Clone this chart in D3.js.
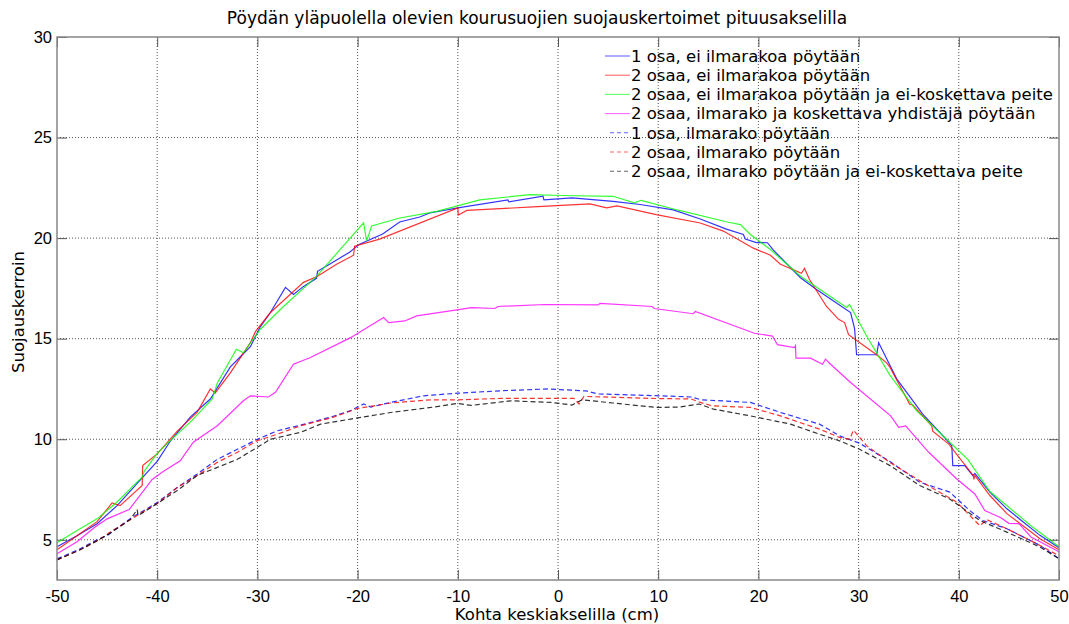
<!DOCTYPE html>
<html>
<head>
<meta charset="utf-8">
<script src="https://cdn.jsdelivr.net/npm/d3@7"></script>
<style>
  body { margin: 0; background: #fff; }
  svg { display: block; font-family: "DejaVu Sans", sans-serif; }
  .grid line { stroke: #555; stroke-dasharray: 1,2; stroke-width: 1; }
  .axis path { display: none; }
  .axis line { stroke: #555; }
  .axis text { font-size: 16.5px; fill: #000; }
</style>
</head>
<body>
<div id="chart"></div>
<script>
// x positions (cm) and coefficients
var osa1Ei = [[-50,4.65],[-48,5.2],[-46,5.8],[-44,6.7],[-42,7.8],[-40,8.9],[-38.7,9.9],[-36.7,11.1],[-34.7,12.0],[-32.7,13.6],[-31.7,14.1],[-30.7,14.6],[-29.7,15.6],[-28.7,16.3],[-27.2,17.55],[-26.4,17.2],[-25.4,17.6],[-24.1,18.0],[-24.0,18.35],[-22.8,18.7],[-20.8,19.3],[-19.8,19.7],[-17.5,20.2],[-15.8,20.8],[-13.8,21.05],[-12.8,21.25],[-10,21.5],[-5,21.9],[-4.9,21.8],[-1.5,22.08],[-1.4,21.9],[1.4,22.0],[5.5,21.83],[8.2,21.67],[11.5,21.4],[14.2,20.95],[16.8,20.45],[18.5,20.18],[18.7,19.95],[19.8,19.78],[20.9,19.77],[21.5,19.4],[24.2,18.03],[25.8,17.45],[27.5,16.87],[29.2,16.3],[29.6,15.5],[29.8,14.2],[31.8,14.2],[32.0,14.8],[33.0,13.8],[33.8,13.0],[34.8,12.33],[36.4,11.25],[38.1,10.34],[39.3,9.68],[39.4,8.69],[40.6,8.69],[41.4,8.19],[41.6,8.3],[43.1,7.37],[44.8,6.54],[46.4,5.9],[48.1,5.22],[50,4.6]]

var osa2Ei = [[-50,4.5],[-48,5.2],[-46,5.9],[-44.5,6.83],[-43.7,6.7],[-41.5,7.7],[-41.45,8.69],[-40,9.27],[-38,10.4],[-36,11.35],[-34.7,12.5],[-34.2,12.3],[-32.7,13.3],[-30.7,14.8],[-30.2,15.35],[-28.7,16.3],[-25.4,17.8],[-24,18.1],[-22.1,18.7],[-20.4,19.15],[-20.3,19.6],[-17.8,19.95],[-10,21.5],[-9.95,21.15],[-9.1,21.38],[-2.5,21.55],[3.2,21.7],[4.85,21.5],[5.9,21.6],[9.8,21.17],[14.2,20.75],[16.5,20.35],[19.5,19.5],[21.2,19.15],[22.2,18.7],[24.3,18.25],[24.6,18.5],[25.1,17.94],[26.8,16.6],[28.0,15.96],[28.6,15.8],[29.0,15.2],[31.8,14.2],[32.8,13.8],[33.1,13.6],[35.1,11.74],[35.4,11.7],[37.3,10.67],[37.4,10.4],[39.0,9.76],[41.45,8.19],[41.5,8.0],[41.6,8.2],[43.1,7.2],[44.8,6.3],[46.4,5.7],[48.1,5.05],[50,4.5]]

var osa2EiPeite = [[-50,4.85],[-48,5.46],[-46,6.04],[-44,6.88],[-42,7.88],[-41.5,8.1],[-41.3,8.4],[-40,9.3],[-38.7,9.93],[-36.7,10.85],[-34.5,12.0],[-34,12.8],[-32.1,14.47],[-31.4,14.3],[-29.7,15.47],[-27.4,16.6],[-24.1,18.1],[-19.4,20.76],[-19.1,19.85],[-18.6,20.6],[-15.8,21.0],[-12.1,21.33],[-7.8,21.9],[-2.8,22.16],[0.5,22.12],[5.5,22.08],[7.6,21.75],[8.3,21.88],[11.9,21.4],[16.9,20.8],[18.2,20.67],[19.2,20.18],[21.2,19.43],[24.2,18.1],[28.8,16.55],[29.1,16.7],[30.8,15.13],[33.1,13.2],[35.8,11.41],[39.1,9.85],[40.9,9.0],[43.1,7.4],[47.2,5.7],[50,4.65]]

var osa2Yhd = [[-50,4.3],[-48,4.9],[-46.3,5.6],[-45,6.04],[-42.8,6.5],[-40.5,8.0],[-39.4,8.4],[-37.7,8.93],[-36.4,9.85],[-34,10.67],[-31.4,11.91],[-30.7,12.16],[-28.9,12.1],[-28.2,12.33],[-26.4,13.73],[-24.7,14.06],[-20.7,15.05],[-17.4,16.05],[-16.9,15.8],[-15.3,15.88],[-14.1,16.13],[-8.6,16.54],[-6.3,16.5],[-6,16.6],[-1.3,16.7],[4,16.68],[4.2,16.75],[9.4,16.6],[9.6,16.5],[13.5,16.24],[13.7,16.35],[19.6,15.27],[21.4,15.13],[21.9,14.7],[23.6,14.56],[23.7,14.65],[23.75,14.03],[25.2,14.03],[26.4,13.73],[26.7,13.98],[27.2,13.73],[29.2,12.82],[33.2,11.16],[34.0,10.59],[34.7,10.66],[37.0,9.35],[39.8,8.02],[41.6,7.28],[42.6,6.45],[44.2,6.1],[45,5.82],[46,5.8],[47.2,5.14],[50,4.4]]

var osa1Rako = [[-50,4.05],[-47.7,4.55],[-45.8,5.05],[-45,5.2],[-42.7,6.05],[-40,6.85],[-38,7.6],[-36,8.27],[-34,9.0],[-32,9.5],[-30,10.0],[-28,10.42],[-25.7,10.7],[-22.7,11.1],[-20.7,11.42],[-19.4,11.75],[-18.7,11.6],[-16.7,11.83],[-13.4,12.16],[-10,12.29],[-5.7,12.41],[-1,12.5],[2.8,12.4],[4,12.25],[9.5,12.17],[13.3,12.1],[14.3,11.96],[19.2,11.83],[22.2,11.33],[26.1,10.75],[28.1,10.17],[30.1,9.8],[33.1,8.9],[36.1,7.86],[39.1,7.37],[39.9,7.0],[41.1,6.45],[42.4,5.96],[44.8,5.55],[48.1,4.72],[50,4.06]]

var osa2Rako = [[-50,4.0],[-47.7,4.5],[-45.8,5.0],[-44.8,5.35],[-42.7,6.0],[-40,6.8],[-38,7.6],[-36,8.2],[-34,8.85],[-32,9.35],[-30,9.93],[-28,10.25],[-25.7,10.67],[-22.7,11.05],[-20,11.53],[-16.7,11.8],[-12.7,11.96],[-10,11.96],[-5.7,12.03],[1.6,12.03],[2.1,11.75],[2.6,12.13],[9.2,12.03],[13.3,12.0],[14.2,11.83],[15.4,11.66],[19.2,11.58],[22.2,11.16],[26.1,10.5],[28.1,10.09],[29.1,10.0],[29.5,10.45],[30.1,10.09],[30.8,9.68],[33.1,8.85],[36.1,7.94],[39.8,6.87],[42.1,5.7],[42.8,6.0],[44.8,5.55],[48.1,4.72],[50,4.2]]

var osa2RakoPeite = [[-50,4.0],[-47.7,4.5],[-45.8,5.0],[-44.8,5.3],[-42.7,6.0],[-42,6.5],[-41.9,6.2],[-40,6.8],[-38,7.45],[-36,8.2],[-34,8.6],[-32,9.0],[-30,9.6],[-28.7,10.0],[-25.7,10.34],[-23.7,10.75],[-20.7,11.0],[-16.7,11.33],[-12.7,11.58],[-10,11.78],[-8.7,11.68],[-4.7,11.91],[-0.7,11.83],[1.4,11.7],[2.4,11.96],[5.5,11.8],[9.8,11.58],[12.1,11.6],[14.1,11.75],[15.5,11.5],[19.2,11.16],[23.2,10.75],[26.1,10.25],[28.1,9.92],[30.1,9.5],[33.1,8.7],[36.1,7.7],[39.1,7.03],[42.1,5.96],[44.8,5.38],[48.1,4.64],[50,4.06]]

var seriesNames = [
  '1 osa, ei ilmarakoa pöytään',
  '2 osaa, ei ilmarakoa pöytään',
  '2 osaa, ei ilmarakoa pöytään ja ei-koskettava peite',
  '2 osaa, ilmarako ja koskettava yhdistäjä pöytään',
  '1 osa, ilmarako pöytään',
  '2 osaa, ilmarako pöytään',
  '2 osaa, ilmarako pöytään ja ei-koskettava peite'
]
var seriesValues = [osa1Ei, osa2Ei, osa2EiPeite, osa2Yhd, osa1Rako, osa2Rako, osa2RakoPeite]
var seriesColors = ['#0000ff', '#ff0000', '#00ff00', '#ff00ff', '#0000ff', '#ff0000', '#000000']
var seriesDashed = [false, false, false, false, true, true, true]

var xTicks = [-50, -40, -30, -20, -10, 0, 10, 20, 30, 40, 50]
var yTicks = [5, 10, 15, 20, 25, 30]

var title = 'Pöydän yläpuolella olevien kourusuojien suojauskertoimet pituusakselilla'
var xLabel = 'Kohta keskiakselilla (cm)'
var yLabel = 'Suojauskerroin'

var W = 1069, H = 624
var margin = {top: 37, right: 10, bottom: 44, left: 57},
    width = W - margin.left - margin.right,
    height = H - margin.top - margin.bottom

var x = d3.scaleLinear().domain([-50, 50]).range([0, width]),
    y = d3.scaleLinear().domain([3, 30]).range([height, 0])

var svg = d3.select('#chart').append('svg')
  .attr('width', W)
  .attr('height', H)

var g = svg.append('g')
  .attr('transform', `translate(${[margin.left, margin.top]})`)

// dotted grid
var grid = g.append('g').attr('class', 'grid')
grid.selectAll('line.gx').data(xTicks.slice(1, -1)).enter().append('line')
    .attr('class', 'gx')
    .attr('x1', d => x(d)).attr('x2', d => x(d))
    .attr('y1', 0).attr('y2', height)
grid.selectAll('line.gy').data(yTicks.filter(d => d < 30)).enter().append('line')
    .attr('class', 'gy')
    .attr('x1', 0).attr('x2', width)
    .attr('y1', d => y(d)).attr('y2', d => y(d))

// axes, ticks pointing inward and mirrored
var fmt = d => String(d)
g.append('g').attr('class', 'axis axis--x')
  .attr('transform', `translate(0,${height})`)
  .call(d3.axisBottom(x).tickValues(xTicks).tickSize(-10).tickPadding(10).tickFormat(fmt))
g.append('g').attr('class', 'axis axis--x2')
  .call(d3.axisTop(x).tickValues(xTicks).tickSize(-10).tickFormat(''))
g.append('g').attr('class', 'axis axis--y')
  .call(d3.axisLeft(y).tickValues(yTicks).tickSize(-10).tickPadding(5).tickFormat(fmt))
g.append('g').attr('class', 'axis axis--y2')
  .attr('transform', `translate(${width},0)`)
  .call(d3.axisRight(y).tickValues(yTicks).tickSize(-10).tickFormat(''))

// series
var line = d3.line().x(d => x(d[0])).y(d => y(d[1]))
g.selectAll('.series').data(seriesValues).enter()
  .append('path')
    .attr('class', 'series')
    .attr('fill', 'none')
    .attr('stroke', (d, i) => seriesColors[i])
    .attr('stroke-width', 1.2)
    .attr('stroke-opacity', 0.8)
    .attr('stroke-dasharray', (d, i) => seriesDashed[i] ? '5,3' : null)
    .attr('d', line)

// frame
g.append('rect')
  .attr('width', width).attr('height', height)
  .attr('fill', 'none').attr('stroke', '#888').attr('stroke-width', 1.5)

// legend
var legend = svg.append('g').attr('transform', 'translate(605,56)')
var item = legend.selectAll('.item').data(seriesNames).enter()
  .append('g').attr('class', 'item')
  .attr('transform', (d, i) => `translate(0,${i * 19.2})`)
item.append('line')
  .attr('x1', (d, i) => seriesDashed[i] ? 5 : 0).attr('x2', 25)
  .attr('stroke', (d, i) => seriesColors[i])
  .attr('stroke-opacity', 0.6)
  .attr('stroke-width', 1.1)
  .attr('stroke-dasharray', (d, i) => seriesDashed[i] ? '4,3' : null)
item.append('text')
  .attr('x', 26).attr('dy', '0.35em')
  .style('font-size', '16.5px')
  .text(d => d)

// titles
svg.append('text')
  .attr('x', 537).attr('y', 24)
  .attr('text-anchor', 'middle')
  .style('font-size', '17px')
  .text(title)
svg.append('text')
  .attr('x', 557).attr('y', 620)
  .attr('text-anchor', 'middle')
  .style('font-size', '16.5px')
  .text(xLabel)
svg.append('text')
  .attr('transform', 'translate(24,312) rotate(-90)')
  .attr('text-anchor', 'middle')
  .style('font-size', '16.5px')
  .text(yLabel)
</script>
</body>
</html>
